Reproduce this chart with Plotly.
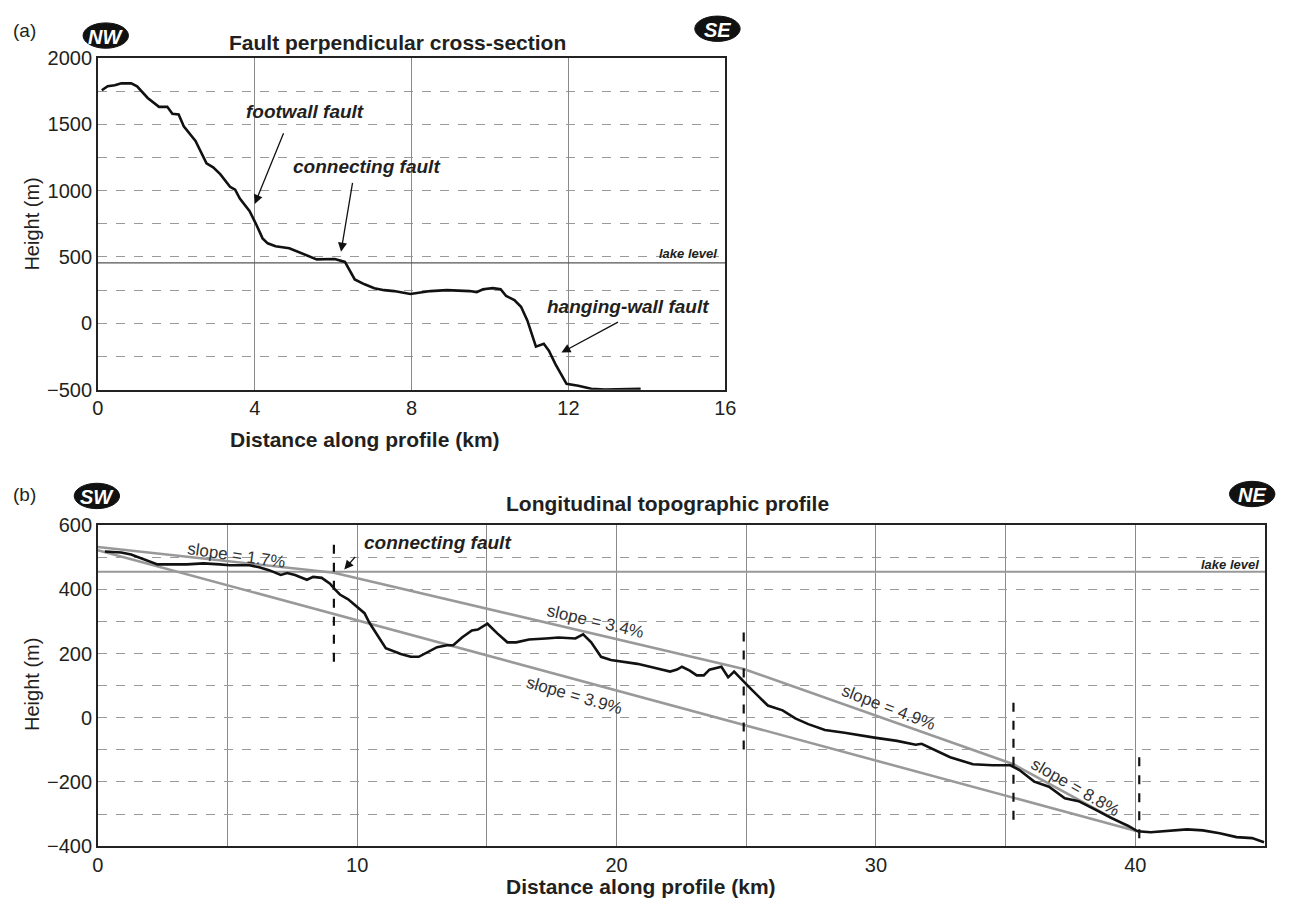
import plotly.graph_objects as go

# ---------------- data: panel (a) fault-perpendicular cross-section ----------------
a_dist = [0.1, 0.25, 0.43, 0.6, 0.85, 1.0, 1.27, 1.56, 1.77, 1.9, 2.06, 2.19, 2.49, 2.77, 2.94,
          3.12, 3.37, 3.5, 3.62, 3.87, 4.03, 4.2, 4.33, 4.53, 4.88, 5.21, 5.58, 6.04, 6.3, 6.55,
          6.8, 7.05, 7.3, 7.55, 7.97, 8.48, 8.9, 9.48, 9.66, 9.82, 10.07, 10.27, 10.41, 10.62,
          10.79, 10.95, 11.17, 11.37, 11.5, 11.67, 11.95, 12.25, 12.58, 12.93, 13.84]
a_height = [1757, 1787, 1794, 1809, 1809, 1787, 1699, 1632, 1632, 1580, 1574, 1485, 1375, 1206, 1176,
            1125, 1029, 1007, 941, 846, 750, 640, 603, 581, 566, 529, 482, 485, 463, 331,
            294, 265, 250, 243, 221, 243, 250, 243, 235, 257, 265, 257, 206, 176,
            125, 22, -176, -154, -206, -309, -456, -471, -493, -500, -493]

# ---------------- data: panel (b) longitudinal profile ----------------
b_dist = [0.27, 0.9, 1.28, 1.79, 2.3, 3.43, 4.07, 4.7, 5.08, 5.84, 6.22, 6.6, 7.05, 7.3, 7.6,
          8.06, 8.3, 8.63, 8.95, 9.14, 9.33, 9.65, 9.9, 10.28, 10.47, 10.79, 11.1, 11.68, 12.06,
          12.37, 12.7, 13.08, 13.46, 13.7, 14.04, 14.42, 14.65, 15.02, 15.4, 15.79, 16.13, 16.62,
          17.27, 17.76, 18.41, 18.71, 19.02, 19.4, 19.78, 20.43, 20.8, 21.45, 22.06, 22.33, 22.52,
          22.82, 23.09, 23.36, 23.58, 24.04, 24.3, 24.53, 24.8, 25.1, 25.45, 25.83, 26.4, 26.89,
          27.39, 28.03, 28.79, 29.44, 29.94, 30.81, 31.53, 31.76, 32.22, 32.86, 33.74, 34.5,
          35.18, 35.53, 36.1, 36.67, 37.28, 37.81, 38.42, 39.06, 39.71, 40.09, 40.59, 41.08,
          41.35, 41.99, 42.6, 43.25, 43.9, 44.5, 44.96]
b_height = [518, 515, 509, 494, 478, 478, 481, 478, 475, 475, 469, 460, 445, 451, 445,
            430, 439, 436, 418, 400, 384, 369, 351, 326, 296, 257, 217, 199, 190,
            190, 205, 220, 226, 226, 250, 272, 275, 293, 263, 235, 235, 244,
            247, 250, 247, 260, 235, 190, 180, 171, 168, 156, 144, 150, 159,
            147, 132, 132, 150, 159, 126, 144, 120, 96, 68, 38, 23, -2,
            -20, -38, -47, -56, -62, -72, -84, -81, -99, -123, -145, -148,
            -148, -163, -199, -215, -251, -260, -285, -312, -336, -354, -357, -354,
            -351, -348, -351, -360, -372, -375, -388]

lake_level = 455

# upper segmented slope line (1.7 %, 3.4 %, 4.9 %, 8.8 %)
upper_slope_x = [0, 9.1, 24.9, 35.3, 40.0]
upper_slope_y = [532, 452, 152, -145, -352]
# lower straight slope line (3.9 %)
lower_slope_x = [0, 40.0]
lower_slope_y = [522, -352]

# fault markers (dashed verticals)
fault_x = [9.1, 24.9, 35.3, 40.15]
fault_top = [539, 266, 47, -123]
fault_bottom = [156, -123, -342, -391]

slope_labels = ["slope = 1.7%", "slope = 3.4%", "slope = 3.9%", "slope = 4.9%", "slope = 8.8%"]
slope_label_x = [5.33, 19.17, 18.37, 30.47, 37.7]
slope_label_y = [507, 299, 70, 31, -217]
slope_label_angle = [8, 13, 16, 21, 30]

a_ticks_x = [0, 4, 8, 12, 16]
a_ticks_y = [-500, 0, 500, 1000, 1500, 2000]
b_ticks_x = [0, 10, 20, 30, 40]
b_ticks_y = [-400, -200, 0, 200, 400, 600]

# figure sized so that, with the browser's default 8px body margin, the page is 1290x911
FW, FH = 1272, 893
OFF = 8
FONT = "Liberation Sans, Arial, sans-serif"
TXT = "#231f20"


def px(x):
    return (x - OFF) / FW


def py(y):
    return 1 - (y - OFF) / FH


fig = go.Figure()

# panel (a)
fig.add_trace(go.Scatter(x=[0, 16], y=[lake_level, lake_level], mode="lines",
                         line=dict(color="#555555", width=1.3), xaxis="x", yaxis="y",
                         hoverinfo="skip"))
fig.add_trace(go.Scatter(x=a_dist, y=a_height, mode="lines",
                         line=dict(color="#111111", width=2.6), xaxis="x", yaxis="y"))

# panel (b)
fig.add_trace(go.Scatter(x=[0, 45], y=[lake_level, lake_level], mode="lines",
                         line=dict(color="#999999", width=1.8), xaxis="x2", yaxis="y2",
                         hoverinfo="skip"))
fig.add_trace(go.Scatter(x=upper_slope_x, y=upper_slope_y, mode="lines",
                         line=dict(color="#999999", width=2.6), xaxis="x2", yaxis="y2"))
fig.add_trace(go.Scatter(x=lower_slope_x, y=lower_slope_y, mode="lines",
                         line=dict(color="#999999", width=2.6), xaxis="x2", yaxis="y2"))
for fx, ft, fb in zip(fault_x, fault_top, fault_bottom):
    fig.add_trace(go.Scatter(x=[fx, fx], y=[ft, fb], mode="lines",
                             line=dict(color="#111111", width=2.2, dash="dash"),
                             xaxis="x2", yaxis="y2"))
fig.add_trace(go.Scatter(x=b_dist, y=b_height, mode="lines",
                         line=dict(color="#111111", width=2.6), xaxis="x2", yaxis="y2"))

grid_col = "#9a9a9a"
common_x = dict(showline=True, linecolor="#222222", linewidth=1.6, mirror=True,
                ticks="", zeroline=False, showgrid=True, gridcolor="#8a8a8a", gridwidth=1,
                tickfont=dict(family=FONT, size=20, color=TXT))
common_y = dict(showline=True, linecolor="#222222", linewidth=1.6, mirror=True,
                ticks="", zeroline=False, showgrid=True, gridcolor=grid_col, gridwidth=1,
                griddash="dash", tickfont=dict(family=FONT, size=20, color=TXT))

fig.update_layout(
    width=FW, height=FH, margin=dict(l=0, r=0, t=0, b=0),
    paper_bgcolor="white", plot_bgcolor="white", showlegend=False,
    xaxis=dict(domain=[px(93), px(729)], range=[0, 16], tickvals=a_ticks_x, anchor="y",
               minor=dict(showgrid=False), **common_x),
    yaxis=dict(domain=[py(388), py(48)], range=[-500, 2000], tickvals=a_ticks_y, anchor="x",
               minor=dict(dtick=250, tick0=0, showgrid=True, gridcolor=grid_col, griddash="dash",
                          gridwidth=1), **common_y),
    xaxis2=dict(domain=[px(93), px(1276)], range=[0, 45], tickvals=b_ticks_x, anchor="y2",
                minor=dict(dtick=5, tick0=0, showgrid=True, gridcolor="#8a8a8a", gridwidth=1),
                **common_x),
    yaxis2=dict(domain=[py(856), py(527)], range=[-400, 600], tickvals=b_ticks_y, anchor="x2",
                minor=dict(dtick=100, tick0=0, showgrid=True, gridcolor=grid_col, griddash="dash",
                           gridwidth=1), **common_y),
)

ann = []


def text(x, y, s, size=19, bold=False, italic=False, color=TXT, xanchor="center", angle=0,
         ref="paper", xr=None, yr=None):
    if bold:
        s = "<b>" + s + "</b>"
    if italic:
        s = "<i>" + s + "</i>"
    d = dict(text=s, showarrow=False, font=dict(family=FONT, size=size, color=color),
             xanchor=xanchor, yanchor="middle", textangle=angle)
    if ref == "paper":
        d.update(x=px(x), y=py(y), xref="paper", yref="paper")
    else:
        d.update(x=x, y=y, xref=xr, yref=yr)
    ann.append(d)


# panel labels, titles, axis titles
text(19, 20, "(a)", size=19)
text(19, 495, "(b)", size=19)
text(397, 32, "Fault perpendicular cross-section", size=21, bold=True)
text(670, 505, "Longitudinal topographic profile", size=21, bold=True)
text(364, 439, "Distance along profile (km)", size=21, bold=True)
text(643, 897, "Distance along profile (km)", size=21, bold=True)
text(26, 218, "Height (m)", size=20, angle=-90)
text(26, 690, "Height (m)", size=20, angle=-90)

# lake level labels
text(15.85, lake_level + 75, "lake level", size=13, bold=True, italic=True, xanchor="right",
     ref="data", xr="x", yr="y")
text(44.85, lake_level + 22, "lake level", size=13, bold=True, italic=True, xanchor="right",
     ref="data", xr="x2", yr="y2")

# fault annotations panel (a)
text(5.28, 1600, "footwall fault", size=19, bold=True, italic=True, ref="data", xr="x", yr="y")
text(6.85, 1180, "connecting fault", size=19, bold=True, italic=True, ref="data", xr="x", yr="y")
text(13.53, 125, "hanging-wall fault", size=19, bold=True, italic=True, ref="data", xr="x", yr="y")
text(13.08, 547, "connecting fault", size=19, bold=True, italic=True, ref="data", xr="x2", yr="y2")

# slope labels
for s, sx, sy, sa in zip(slope_labels, slope_label_x, slope_label_y, slope_label_angle):
    text(sx, sy, s, size=17, color="#333333", angle=sa, ref="data", xr="x2", yr="y2")

# arrows: (head x, head y, tail x, tail y, xref, yref)
arrow_specs = [
    (4.0, 900, 4.75, 1445, "x", "y"),
    (6.2, 540, 6.5, 1070, "x", "y"),
    (11.82, -221, 13.3, 15, "x", "y"),
    (9.5, 462, 9.97, 506, "x2", "y2"),
]
for hx, hy, tx, ty, xr, yr in arrow_specs:
    ann.append(dict(x=hx, y=hy, ax=tx, ay=ty, xref=xr, yref=yr, axref=xr, ayref=yr,
                    showarrow=True, arrowhead=2, arrowsize=1.4, arrowwidth=1.3,
                    arrowcolor="#111111", text=""))

# compass badges
badges = [("NW", 101, 25), ("SE", 721, 18), ("SW", 92, 497), ("NE", 1263, 495)]
shapes = []
for lab, cx, cy in badges:
    shapes.append(dict(type="circle", xref="paper", yref="paper",
                       x0=px(cx - 23), x1=px(cx + 23), y0=py(cy + 13), y1=py(cy - 13),
                       fillcolor="#111111", line=dict(color="#111111", width=1)))
    text(cx, cy + 1, lab, size=20, bold=True, italic=True, color="white")

fig.update_layout(annotations=ann, shapes=shapes)

fig.write_html("out.html", config={"displayModeBar": False})
